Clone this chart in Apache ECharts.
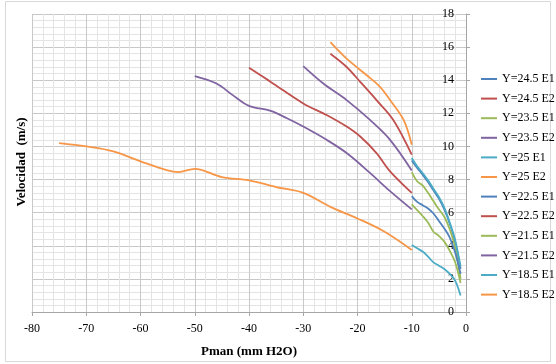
<!DOCTYPE html>
<html>
<head>
<meta charset="utf-8">
<script src="https://cdn.jsdelivr.net/npm/echarts@6/dist/echarts.min.js"></script>
<style>
html,body{margin:0;padding:0;background:#fff;}
#c{width:556px;height:364px;}
</style>
</head>
<body>
<div id="c"></div>
<script>
// ---- data ----
var seriesNames = ['Y=24.5 E1','Y=24.5 E2','Y=23.5 E1','Y=23.5 E2','Y=25 E1','Y=25 E2',
                   'Y=22.5 E1','Y=22.5 E2','Y=21.5 E1','Y=21.5 E2','Y=18.5 E1','Y=18.5 E2'];
var xTicks = [-80,-70,-60,-50,-40,-30,-20,-10,0];
var yTicks = [0,2,4,6,8,10,12,14,16,18];

var e1X = [-10,-9,-8,-7,-6,-5,-4,-3,-2,-1];
var y245E1 = [9.15,8.7,8.3,7.85,7.35,6.85,6.2,5.35,4.25,2.6];
var y235E1 = [8.45,7.9,7.65,7.2,6.7,6.2,5.75,5.0,3.9,2.0];
var y25E1  = [9.3,8.8,8.4,7.95,7.45,6.95,6.3,5.4,4.35,2.75];
var y225E1 = [7.0,6.65,6.45,6.25,5.95,5.5,5.05,4.5,3.6,2.3];
var y215E1 = [6.5,6.15,5.8,5.4,4.85,4.6,4.25,3.7,3.0,1.75];
var y185E1 = [4.05,3.85,3.65,3.35,3.0,2.8,2.6,2.3,1.9,1.0];

var x245E2 = [-25,-22,-19.5,-16.5,-13.4,-10];
var y245E2 = [15.6,14.8,13.9,12.8,11.6,9.5];
var x235E2 = [-30,-26.3,-22,-17.7,-14,-10];
var y235E2 = [14.85,13.8,12.8,11.6,10.4,8.55];
var x25E2  = [-25,-22,-18.3,-15.85,-14,-11.5,-10];
var y25E2  = [16.3,15.3,14.3,13.6,12.8,11.6,10.1];
var x225E2 = [-40,-36,-30,-25.7,-22,-19.5,-16.5,-14,-10];
var y225E2 = [14.75,13.9,12.6,11.9,11.2,10.6,9.6,8.5,7.2];
var x215E2 = [-50,-46,-43,-40,-36,-33,-30,-25.7,-22,-17.7,-14,-10];
var y215E2 = [14.25,13.8,13.1,12.45,12.15,11.7,11.2,10.4,9.6,8.4,7.3,6.2];
var x185E2 = [-75,-70,-65,-60,-55,-53,-50,-45,-40,-35,-30,-25,-20,-15,-10];
var y185E2 = [10.2,10.0,9.7,9.1,8.55,8.45,8.65,8.15,7.95,7.55,7.2,6.35,5.65,4.85,3.75];

var seriesX = [e1X, x245E2, e1X, x235E2, e1X, x25E2, e1X, x225E2, e1X, x215E2, e1X, x185E2];
var seriesY = [y245E1, y245E2, y235E1, y235E2, y25E1, y25E2, y225E1, y225E2, y215E1, y215E2, y185E1, y185E2];

var palette = ['#4F81BD','#C0504D','#9BBB59','#8064A2','#4BACC6','#F79646'];

function pairs(xs, ys){ var r=[]; for(var i=0;i<xs.length;i++) r.push([xs[i], ys[i]]); return r; }

var series = seriesNames.map(function(n, i){
  return {
    name: n, type: 'line', smooth: 0.35, showSymbol: false, symbol: 'none',
    data: pairs(seriesX[i], seriesY[i]),
    lineStyle: { width: 1.8, color: palette[i % 6] },
    itemStyle: { color: palette[i % 6] },
    emphasis: { disabled: true }
  };
});

var font = '"Liberation Serif", "DejaVu Serif", serif';
var chart = echarts.init(document.getElementById('c'), null, {renderer:'canvas'});
chart.setOption({
  animation: false,
  backgroundColor: '#ffffff',
  color: palette,
  graphic: [
    { type: 'rect', shape: { x: 5.5, y: 1.5, width: 545, height: 360 },
      style: { fill: 'none', stroke: '#d9d9d9', lineWidth: 1 }, silent: true, z: -10 },
    { type: 'text', x: 22, y: 162, rotation: Math.PI/2, silent: true,
      style: { text: 'Velocidad  (m/s)', font: 'bold 13px ' + font, fill: '#000',
               textAlign: 'center', textVerticalAlign: 'middle' } }
  ],
  grid: { left: 32, right: 90, top: 14, bottom: 52, containLabel: false },
  legend: {
    orient: 'vertical', left: 476, top: 67, itemGap: 5.6,
    itemWidth: 16, itemHeight: 2, icon: 'rect',
    textStyle: { fontFamily: font, fontSize: 12, color: '#000', lineHeight: 14 },
    data: seriesNames
  },
  xAxis: {
    type: 'value', min: -80, max: 0, interval: 10,
    name: 'Pman (mm H2O)', nameLocation: 'middle', nameGap: 33,
    nameTextStyle: { fontFamily: font, fontSize: 13, fontWeight: 'bold', color: '#000' },
    axisLine: { show: true, onZero: false, lineStyle: { color: '#a6a6a6' } },
    axisTick: { show: true, length: 4, lineStyle: { color: '#a6a6a6' } },
    minorTick: { show: false, splitNumber: 5 },
    axisLabel: { fontFamily: font, fontSize: 12, color: '#000', margin: 11,
                 customValues: xTicks },
    splitLine: { show: true, lineStyle: { color: '#c8c8c8', width: 1 } },
    minorSplitLine: { show: true, lineStyle: { color: '#e4e4e4', width: 1 } }
  },
  yAxis: {
    type: 'value', min: 0, max: 18, interval: 2, position: 'right',
    axisLine: { show: true, onZero: false, lineStyle: { color: '#a6a6a6' } },
    axisTick: { show: true, length: 4, inside: false, lineStyle: { color: '#a6a6a6' } },
    minorTick: { show: false, splitNumber: 5 },
    axisLabel: { inside: true, fontFamily: font, fontSize: 12, color: '#000', margin: 12,
                 customValues: yTicks },
    splitLine: { show: true, lineStyle: { color: '#c8c8c8', width: 1 } },
    minorSplitLine: { show: true, lineStyle: { color: '#e4e4e4', width: 1 } }
  },
  series: series
});
</script>
</body>
</html>
